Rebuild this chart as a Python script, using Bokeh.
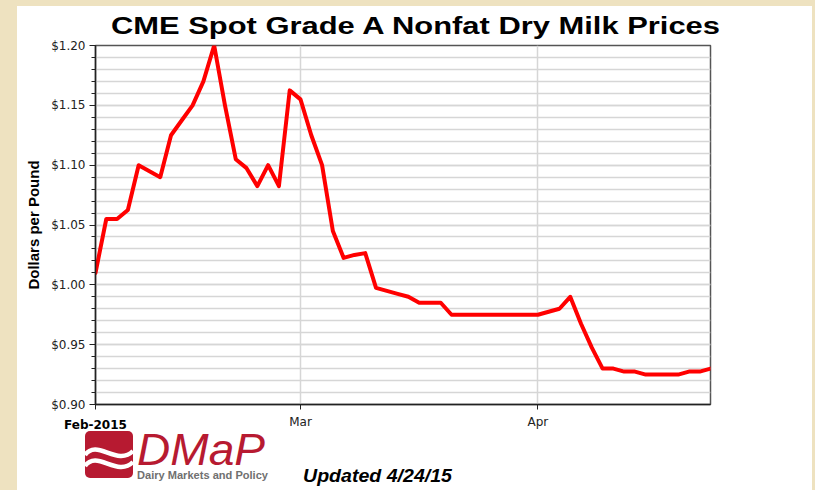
from bokeh.plotting import figure
from bokeh.layouts import column
from bokeh.models import (Range1d, FixedTicker, NumeralTickFormatter, LinearAxis, Div)
from bokeh.embed import file_html
from bokeh.resources import INLINE

# ---- data: CME spot Grade A NFDM, $/lb, trading days ----
dates = ["2015-02-02", "2015-02-03", "2015-02-04", "2015-02-05", "2015-02-06",
         "2015-02-09", "2015-02-10", "2015-02-11", "2015-02-12", "2015-02-13",
         "2015-02-17", "2015-02-18", "2015-02-19", "2015-02-20",
         "2015-02-23", "2015-02-24", "2015-02-25", "2015-02-26", "2015-02-27",
         "2015-03-02", "2015-03-03", "2015-03-04", "2015-03-05", "2015-03-06",
         "2015-03-09", "2015-03-10", "2015-03-11", "2015-03-12", "2015-03-13",
         "2015-03-16", "2015-03-17", "2015-03-18", "2015-03-19", "2015-03-20",
         "2015-03-23", "2015-03-24", "2015-03-25", "2015-03-26", "2015-03-27",
         "2015-03-30", "2015-03-31", "2015-04-01", "2015-04-02",
         "2015-04-06", "2015-04-07", "2015-04-08", "2015-04-09", "2015-04-10",
         "2015-04-13", "2015-04-14", "2015-04-15", "2015-04-16", "2015-04-17",
         "2015-04-20", "2015-04-21", "2015-04-22", "2015-04-23", "2015-04-24"]
prices = [1.0100, 1.0550, 1.0550, 1.0625, 1.1000,
          1.0950, 1.0900, 1.1250, 1.1375, 1.1500,
          1.1700, 1.2000, 1.1500, 1.1050,
          1.0975, 1.0825, 1.1000, 1.0825, 1.1625,
          1.1550, 1.1250, 1.1000, 1.0450, 1.0225,
          1.0250, 1.0265, 0.9975, 0.9950, 0.9925,
          0.9900, 0.9850, 0.9850, 0.9850, 0.9750,
          0.9750, 0.9750, 0.9750, 0.9750, 0.9750,
          0.9750, 0.9750, 0.9750, 0.9775,
          0.9800, 0.9900, 0.9675, 0.9475, 0.9300,
          0.9300, 0.9275, 0.9275, 0.9250, 0.9250,
          0.9250, 0.9250, 0.9275, 0.9275, 0.9300]
month_labels = ["Feb-2015", "Mar", "Apr"]
y_ticks = [0.90, 0.95, 1.00, 1.05, 1.10, 1.15, 1.20]
y_minor_step = 0.01
title_text = "CME Spot Grade A Nonfat Dry Milk Prices"
y_label = "Dollars per Pound"
logo_text = "DMaP"
logo_sub = "Dairy Markets and Policy"
updated_text = "Updated 4/24/15"

idx = list(range(len(dates)))
month_starts = [i for i in idx if i == 0 or dates[i][5:7] != dates[i - 1][5:7]]
n_minor = int(round((y_ticks[-1] - y_ticks[0]) / y_minor_step))
y_minor = [round(y_ticks[0] + k * y_minor_step, 2) for k in range(n_minor + 1)]

GRID = "#d6d6d6"
RED = "#ff0000"
BRAND = "#b71a31"
INK = "#222222"
W, H = 795, 484

p = figure(width=W, height=H, output_backend="svg", toolbar_location=None,
           x_range=Range1d(0, len(dates) - 1), y_range=Range1d(y_ticks[0], y_ticks[-1]),
           min_border_left=78, min_border_right=102, min_border_top=39, min_border_bottom=86,
           background_fill_color="white", border_fill_color="white")
p.title.visible = False

p.outline_line_color = "#555555"
p.outline_line_width = 1.5

# y axis
yax = p.yaxis[0]
yax.ticker = FixedTicker(ticks=y_ticks, minor_ticks=y_minor)
yax.formatter = NumeralTickFormatter(format="$0.00")
yax.axis_line_color = INK
yax.axis_line_width = 1.5
yax.major_tick_in = 0
yax.major_tick_out = 6
yax.minor_tick_in = 0
yax.minor_tick_out = 4
yax.major_tick_line_color = INK
yax.minor_tick_line_color = INK
yax.major_label_text_font = "DejaVu Sans"
yax.major_label_text_font_size = "12px"
yax.major_label_text_color = INK
yax.major_label_standoff = 4
yax.axis_label = y_label
yax.axis_label_text_font = "Liberation Sans"
yax.axis_label_text_font_size = "15px"
yax.axis_label_text_font_style = "bold"
yax.axis_label_text_color = "black"
yax.axis_label_standoff = 6

# x axis: month ticks, later months in regular type
xax = p.xaxis[0]
xax.ticker = FixedTicker(ticks=month_starts)
xax.major_label_overrides = {month_starts[0]: ""} | {m: lab for m, lab in zip(month_starts[1:], month_labels[1:])}
xax.axis_line_color = INK
xax.axis_line_width = 1.5
xax.major_tick_in = 0
xax.major_tick_out = 5
xax.minor_tick_line_color = None
xax.major_tick_line_color = INK
xax.major_label_text_font = "DejaVu Sans"
xax.major_label_text_font_size = "12px"
xax.major_label_text_color = INK
xax.major_label_standoff = 5

# second axis carrying the bold first-month label on the same row
xax2 = LinearAxis(ticker=FixedTicker(ticks=month_starts[:1]),
                  major_label_overrides={month_starts[0]: month_labels[0]},
                  axis_line_color=None, major_tick_line_color=None, minor_tick_line_color=None,
                  major_tick_in=0, major_tick_out=0, minor_tick_in=0, minor_tick_out=0,
                  major_label_standoff=-14,
                  major_label_text_font="DejaVu Sans", major_label_text_font_size="12px",
                  major_label_text_font_style="bold", major_label_text_color="black")
p.add_layout(xax2, "below")

# grids
p.ygrid.grid_line_color = GRID
p.ygrid.grid_line_width = 1.5
p.ygrid.minor_grid_line_color = GRID
p.ygrid.minor_grid_line_width = 1.5
p.xgrid.grid_line_color = GRID
p.xgrid.grid_line_width = 1.5

p.line(idx, prices, line_color=RED, line_width=4, line_join="round", line_cap="round")

# ---- overlay: stretched title, DMaP logo and update note ----
overlay_svg = f"""
<svg xmlns="http://www.w3.org/2000/svg" width="{W}" height="{H}" style="display:block;overflow:visible">
  <text x="94" y="27.5" font-family="Liberation Sans" font-weight="bold" font-size="23.5"
        fill="black" textLength="609" lengthAdjust="spacingAndGlyphs">{title_text}</text>
  <rect x="68" y="425" width="48" height="47" rx="5" fill="{BRAND}"/>
  <path d="M68,449 C80,432 100,461 116,445" stroke="white" stroke-width="4.5" fill="none"/>
  <path d="M68,460 C80,443 100,472 116,456" stroke="white" stroke-width="4.5" fill="none"/>
  <text x="120" y="459" font-family="Liberation Serif" font-style="italic" font-size="45"
        fill="{BRAND}" textLength="128" lengthAdjust="spacingAndGlyphs">{logo_text}</text>
  <text x="120" y="472.5" font-family="Liberation Sans" font-weight="bold" font-size="11.5"
        fill="#707070" textLength="131" lengthAdjust="spacingAndGlyphs">{logo_sub}</text>
  <text x="286" y="476" font-family="Liberation Sans" font-weight="bold" font-style="italic"
        font-size="18.5" fill="black" textLength="149" lengthAdjust="spacingAndGlyphs">{updated_text}</text>
</svg>
"""
overlay = Div(text=overlay_svg, width=W, height=H,
              styles={"margin-top": f"-{H}px", "margin-left": "0px", "margin-right": "0px",
                      "margin-bottom": "0px", "padding": "0px",
                      "background-color": "transparent", "pointer-events": "none"})

layout = column(p, overlay, spacing=0, styles={"background-color": "white"})

template = """
{% block postamble %}
<style>
html, body { margin: 0 !important; padding: 0; background: #eee2c0; overflow: hidden; }
body { padding: 6px 0 0 17px !important; }
</style>
{% endblock %}
"""

open("out.html", "w").write(file_html(layout, INLINE, template=template))
